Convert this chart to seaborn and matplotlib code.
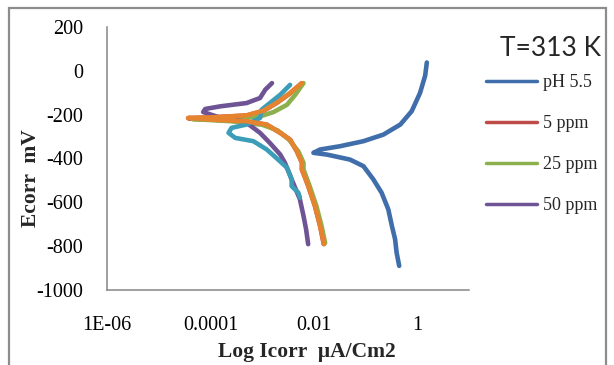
import numpy as np
import pandas as pd
import matplotlib
matplotlib.use("Agg")
import matplotlib.pyplot as plt
from matplotlib.lines import Line2D
from matplotlib.patches import Rectangle
import seaborn as sns

# ---- data (current in uA/cm2, potential in mV) ----
ph55_i = [1.53, 1.42, 1.13, 0.78, 0.47, 0.221, 0.091, 0.032, 0.0132, 0.0098,
          0.0178, 0.050, 0.091, 0.141, 0.204, 0.275, 0.323, 0.372, 0.398, 0.447]
ph55_e = [38, -22, -101, -184, -245, -291, -321, -344, -359, -374,
          -382, -405, -435, -495, -556, -632, -708, -768, -829, -890]

ppm5_i = [0.0058, 0.0035, 0.0019, 0.00105, 0.0005, 0.000114, 0.000037, 0.000114, 0.0005,
          0.00123, 0.00224, 0.00347, 0.00468, 0.0059, 0.0059, 0.0078, 0.0105, 0.0132, 0.0155]
ppm5_e = [-57, -102, -147, -183, -204, -212, -216, -223, -231,
          -246, -283, -314, -367, -419, -450, -526, -617, -708, -790]

ppm25_i = [0.0063, 0.00437, 0.00302, 0.00166, 0.00091, 0.00025, 0.000045, 0.00025, 0.0010,
           0.0020, 0.0033, 0.0050, 0.0063, 0.0063, 0.0083, 0.0112, 0.0141, 0.0165]
ppm25_e = [-56, -109, -155, -188, -208, -218, -220, -230, -246,
           -272, -314, -367, -419, -450, -526, -617, -708, -785]

ppm50_i = [0.00155, 0.00115, 0.00091, 0.0005, 0.000155, 0.0000794, 0.0000724, 0.000155, 0.000468,
           0.00091, 0.00141, 0.00224, 0.00275, 0.00372, 0.00537, 0.00631, 0.00708, 0.00776]
ppm50_e = [-56, -86, -124, -147, -162, -174, -188, -214, -232,
           -283, -329, -382, -419, -495, -586, -662, -723, -791]

s5_i = [0.00347, 0.00224, 0.00141, 0.00098, 0.00091, 0.0005, 0.000257, 0.000224, 0.000302,
        0.000676, 0.00123, 0.00204, 0.00302, 0.00372, 0.00372, 0.00501, 0.00537]
s5_e = [-64, -109, -147, -177, -215, -245, -260, -283, -306,
        -321, -359, -405, -442, -495, -526, -556, -579]

s6_i = [0.00583, 0.00347, 0.00191, 0.00105, 0.000501, 0.000114, 0.0000371, 0.000114, 0.000501,
        0.00123, 0.00224, 0.00347, 0.00468, 0.00589, 0.00583, 0.00783, 0.0105, 0.0132, 0.0158]
s6_e = [-56, -101, -146, -182, -203, -212, -215, -223, -230,
        -245, -283, -314, -367, -419, -450, -526, -617, -708, -791]

series_names = ["pH 5.5", "5 ppm", "25 ppm", "50 ppm", "Series5", "Series6"]
legend_names = ["pH 5.5", "5 ppm", "25 ppm", "50 ppm"]
colors = ["#3F6EAA", "#BE4B48", "#8DB04E", "#6F5495", "#3B9DB8", "#E6832F"]

x_ticks = [1e-6, 1e-4, 1e-2, 1]
x_ticklabels = ["1E-06", "0.0001", "0.01", "1"]
y_ticks = [200, 0, -200, -400, -600, -800, -1000]

all_i = [ph55_i, ppm5_i, ppm25_i, ppm50_i, s5_i, s6_i]
all_e = [ph55_e, ppm5_e, ppm25_e, ppm50_e, s5_e, s6_e]

frames = []
for name, xi, ye in zip(series_names, all_i, all_e):
    frames.append(pd.DataFrame({"I": xi, "E": ye, "series": name}))
df = pd.concat(frames, ignore_index=True)

sns.set_style("white")
plt.rcParams["font.family"] = ["Liberation Serif", "DejaVu Serif"]
plt.rcParams["axes.unicode_minus"] = False

fig = plt.figure(figsize=(6.14, 3.65), dpi=100)
ax = fig.add_axes([107 / 614, 1 - 290 / 365, (469 - 107) / 614, (290 - 27) / 365])

for name, col in zip(series_names, colors):
    sub = df[df["series"] == name]
    sns.lineplot(data=sub, x="I", y="E", sort=False, estimator=None, color=col,
                 linewidth=3.3, ax=ax, legend=False, solid_capstyle="round", solid_joinstyle="round")

ax.set_xscale("log")
ax.set_xlim(1e-6, 10)
ax.set_ylim(-1000, 200)
ax.set_xticks(x_ticks)
ax.set_xticklabels(x_ticklabels)
ax.xaxis.set_minor_locator(matplotlib.ticker.NullLocator())
ax.set_yticks(y_ticks)
ax.tick_params(axis="both", which="major", direction="out", length=5, width=1.1,
               color="#868686", labelsize=14.5, labelcolor="black")
ax.tick_params(axis="y", pad=12)
ax.tick_params(axis="x", pad=14)
for s in ["top", "right"]:
    ax.spines[s].set_visible(False)
for s in ["left", "bottom"]:
    ax.spines[s].set_color("#868686")
    ax.spines[s].set_linewidth(1.1)

ax.set_xlabel("Log Icorr  \u00b5A/Cm2", fontsize=15.5, fontweight="bold")
ax.set_ylabel("Ecorr  mV", fontsize=15.5, fontweight="bold")
ax.xaxis.set_label_coords((307 - 107) / (469 - 107), -(352 - 290) / (290 - 27))
ax.yaxis.set_label_coords(-(107 - 31) / (469 - 107), (290 - 178) / (290 - 27))
ax.xaxis.label.set_va("center")
ax.yaxis.label.set_va("center")

handles = [Line2D([0], [0], color=c, linewidth=2.5) for c in colors[:4]]
fig.legend(handles, legend_names, loc="upper left", bbox_to_anchor=(486 / 614, 1 - 74 / 365),
           frameon=False, fontsize=13, handlelength=2.85, handletextpad=0.3,
           labelspacing=1.33, borderpad=0, borderaxespad=0)

fig.text(550 / 614, 1 - 49 / 365, "T=313 K", fontsize=19, family=["Lato", "DejaVu Sans"],
         ha="center", va="center")

fig.patches.append(Rectangle((9 / 614, -0.05), (606 - 9) / 614, 1.05 - 8 / 365,
                             transform=fig.transFigure, fill=False, edgecolor="#8c8c8c",
                             linewidth=1.6, zorder=0))

fig.savefig("out.png", dpi=100)
